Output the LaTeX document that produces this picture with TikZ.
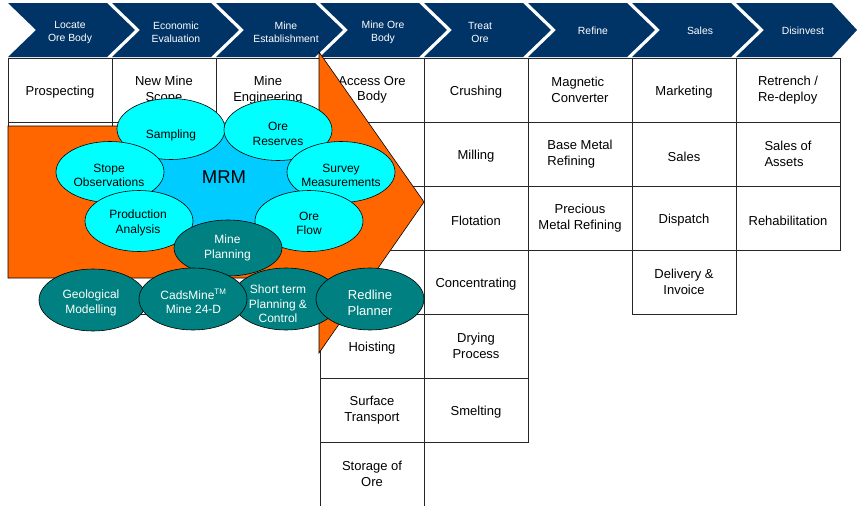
\documentclass[tikz,border=0pt]{standalone}
\usepackage{fontspec}
\setmainfont{Liberation Sans}
\usetikzlibrary{shapes.geometric}
\definecolor{navy}{HTML}{003366}
\definecolor{orng}{HTML}{FF6600}
\definecolor{cyn}{HTML}{00FFFF}
\definecolor{blobc}{HTML}{00CCFF}
\definecolor{tealc}{HTML}{008080}
\begin{document}
\begin{tikzpicture}[x=1pt,y=-1pt,
  cell/.style={draw=black!85, line width=0.7pt, fill=white, minimum width=104pt, minimum height=64pt, inner sep=1pt, align=center, font=\fontsize{13}{15.5}\selectfont, execute at begin node={\rule{0pt}{14.6pt}}},
  cellL/.style={cell, align=left},
  chev/.style={fill=navy},
  hdr/.style={text=white, align=center, inner sep=0pt, font=\fontsize{10.4}{12.5}\selectfont},
  cyanell/.style={ellipse, draw=black, line width=0.6pt, fill=cyn, minimum width=108pt, minimum height=61pt, inner sep=0pt},
  tealell/.style={ellipse, draw=black, line width=0.6pt, fill=tealc, minimum width=108pt, minimum height=62pt, inner sep=0pt},
  ctxt/.style={align=center, inner sep=0pt, font=\fontsize{12}{14.5}\selectfont},
  ttxt/.style={align=center, inner sep=0pt, text=white, font=\fontsize{12}{14.5}\selectfont},
  arrowshape/.style={fill=orng, draw=black, line width=0.6pt}
]
\useasboundingbox (0,0) rectangle (857,506);

% ---------- header chevrons ----------
\foreach \k in {0,...,6}{
  \pgfmathsetmacro{\xo}{8+104*\k}
  \fill[chev] (\xo,3) -- (\xo+99,3) -- (\xo+127,30) -- (\xo+99,57) -- (\xo,57) -- (\xo+28,30) -- cycle;
}
\fill[chev] (736,3) -- (832,3) -- (857,30) -- (832,57) -- (736,57) -- (764,30) -- cycle;
\node[hdr] (h1) at (70,32.5) {Locate\\Ore Body};
\node[hdr] (h2) at (176,32.5) {Economic\\Evaluation};
\node[hdr] (h3) at (286,32.5) {Mine\\Establishment};
\node[hdr] (h4) at (383,32.5) {Mine Ore\\Body};
\node[hdr] (h5) at (480,32.5) {Treat\\Ore};
\node[hdr] (h6) at (593,31) {Refine};
\node[hdr] (h7) at (700,31) {Sales};
\node[hdr] (h8) at (803,31) {Disinvest};

% ---------- table cells ----------
% row 1
\node[cell] (c11) at (60,90) {Prospecting};
\node[cell] (c21) at (164,90) {New Mine\\Scope};
\node[cell] (c31) at (268,90) {Mine\\Engineering};
\node[cell] (c41) at (372,90) {Access Ore\\Body};
\node[cell] (c51) at (476,90) {Crushing};
\node[cellL] (c61) at (580,90) {Magnetic\\Converter};
\node[cell] (c71) at (684,90) {Marketing};
\node[cellL] (c81) at (788,90) {Retrench /\\Re-deploy};
% row 2
\node[cell] (c12) at (60,154) {};
\node[cell] (c22) at (164,154) {};
\node[cell] (c32) at (268,154) {};
\node[cell] (c42) at (372,154) {};
\node[cell] (c52) at (476,154) {Milling};
\node[cellL] (c62) at (580,154) {Base Metal\\Refining};
\node[cell] (c72) at (684,154) {Sales};
\node[cellL] (c82) at (788,154) {Sales of\\Assets};
% row 3
\node[cell] (c13) at (60,218) {};
\node[cell] (c23) at (164,218) {};
\node[cell] (c33) at (268,218) {};
\node[cell] (c43) at (372,218) {};
\node[cell] (c53) at (476,218) {Flotation};
\node[cell] (c63) at (580,218) {Precious\\Metal Refining};
\node[cell] (c73) at (684,218) {Dispatch};
\node[cell] (c83) at (788,218) {Rehabilitation};
% row 4
\node[cell] (c24) at (164,282) {};
\node[cell] (c34) at (268,282) {};
\node[cell] (c44) at (372,282) {};
\node[cell] (c54) at (476,282) {Concentrating};
\node[cell] (c74) at (684,282) {Delivery \&\\Invoice};
% rows 5-7
\node[cell] (c45) at (372,346) {Hoisting};
\node[cell] (c55) at (476,346) {Drying\\Process};
\node[cell] (c46) at (372,410) {Surface\\Transport};
\node[cell] (c56) at (476,410) {Smelting};
\node[cell] (c47) at (372,474) {Storage of\\Ore};

% ---------- big orange arrow ----------
\draw[arrowshape] (8,126) -- (319,126) -- (319,52) -- (424,202) -- (319,353) -- (319,278) -- (8,278) -- cycle;

% ---------- MRM cluster ----------
\fill[blobc] (224,180) ellipse [x radius=100, y radius=58];
\node[inner sep=0pt, font=\fontsize{18.5}{20}\selectfont] (mrm) at (224,177) {MRM};

\node[cyanell] (samp) at (171,129) {};
\node[ctxt] (sampt) at (171,135) {Sampling};
\node[cyanell] (ores) at (278,130) {};
\node[ctxt] (orest) at (278,134) {Ore\\Reserves};
\node[cyanell] (stope) at (110,172) {};
\node[ctxt] (stopet) at (109,175.5) {Stope\\Observations};
\node[cyanell] (surv) at (341,172) {};
\node[ctxt] (survt) at (341,175.5) {Survey\\Measurements};
\node[cyanell] (prod) at (139,221) {};
\node[ctxt] (prodt) at (138,223) {Production\\Analysis};
\node[cyanell] (oflow) at (309,221) {};
\node[ctxt] (oflowt) at (309,223.5) {Ore\\Flow};

\node[tealell, minimum height=56pt] (mplan) at (228,248) {};
\node[ttxt] (mplant) at (227.5,248) {Mine\\Planning};
\node[tealell] (geo) at (93,300) {};
\node[ttxt] (geot) at (91,303) {Geological\\Modelling};
\node[tealell] (short) at (286,299) {};
\node[ttxt] (shortt) at (278,304) {Short term\\Planning \&\\Control};
\node[tealell] (cads) at (193,299) {};
\node[ttxt] (cadst) at (193.5,301.5) {CadsMine\textsuperscript{TM}\\Mine 24-D};
\node[tealell] (red) at (370,299) {};
\node[ttxt, font=\fontsize{13}{16}\selectfont] (redt) at (370,302.5) {Redline\\Planner};
\end{tikzpicture}
\end{document}
